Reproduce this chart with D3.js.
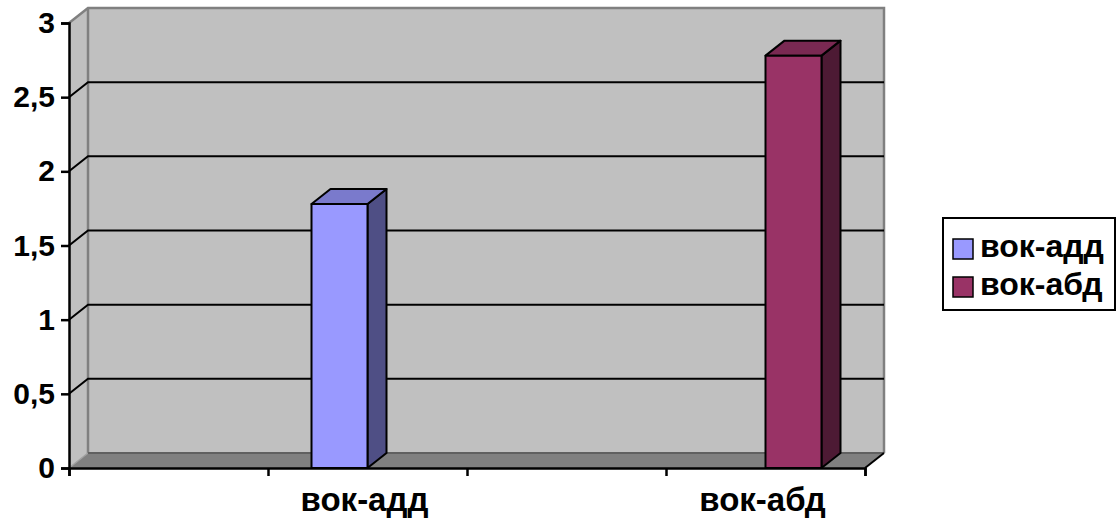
<!DOCTYPE html>
<html>
<head>
<meta charset="utf-8">
<script src="https://cdn.jsdelivr.net/npm/d3@7"></script>
<style>
  html, body { margin: 0; padding: 0; background: #fff; }
  svg { display: block; font-family: "Liberation Sans", Arial, sans-serif; font-weight: bold; }
</style>
</head>
<body>
<script>
// data
const categories = ["", "вок-адд", "", "вок-абд"];
const seriesNames = ["вок-адд", "вок-абд"];
const seriesValues = [
  [null, 1.78, null, null],
  [null, null, null, 2.78]
];
const yTicks = [0, 0.5, 1, 1.5, 2, 2.5, 3];

const colors = [
  { front: "#9999ff", top: "#7a7acc", side: "#4f4f85" },
  { front: "#993366", top: "#7a2952", side: "#4d1a34" }
];

const W = 1119, H = 520;
const x0 = 69, x1 = 865, yBottom = 468, yTop = 23;
const dx = 19, dy = 15; // depth of the 3d box

const svg = d3.select("body").append("svg")
  .attr("width", W)
  .attr("height", H);

const y = d3.scaleLinear().domain([0, 3]).range([yBottom, yTop]);
const x = d3.scaleBand().domain(d3.range(categories.length)).range([x0, x1]).padding(0);
const bw = x.bandwidth();
const xs = d3.scaleBand().domain(d3.range(seriesNames.length))
  .range([bw * 0.2186, bw * 0.7814]).padding(0);

const pts = a => a.map(p => p.join(",")).join(" ");

// walls
svg.append("polygon") // side wall
  .attr("points", pts([[x0, yBottom], [x0 + dx, yBottom - dy], [x0 + dx, yTop - dy], [x0, yTop]]))
  .attr("fill", "#c0c0c0");
svg.append("polygon") // back wall
  .attr("points", pts([[x0 + dx, yBottom - dy], [x1 + dx, yBottom - dy], [x1 + dx, yTop - dy], [x0 + dx, yTop - dy]]))
  .attr("fill", "#c0c0c0");
svg.append("polygon") // floor
  .attr("points", pts([[x0, yBottom], [x1, yBottom], [x1 + dx, yBottom - dy], [x0 + dx, yBottom - dy]]))
  .attr("fill", "#808080");

// wall edges
const edge = svg.append("g").attr("fill", "none").attr("stroke", "#808080").attr("stroke-width", 2.5);
edge.append("polyline")
  .attr("points", pts([[x0, yTop], [x0 + dx, yTop - dy], [x1 + dx, yTop - dy], [x1 + dx, yBottom - dy]]));
edge.append("line")
  .attr("x1", x0 + dx).attr("y1", yTop - dy).attr("x2", x0 + dx).attr("y2", yBottom - dy);
edge.append("line")
  .attr("x1", x0).attr("y1", yBottom).attr("x2", x0 + dx).attr("y2", yBottom - dy)
  .attr("stroke", "#a0a0a0").attr("stroke-width", 1.5);
edge.append("line")
  .attr("x1", x0 + dx).attr("y1", yBottom - dy).attr("x2", x1 + dx).attr("y2", yBottom - dy)
  .attr("stroke", "#606060").attr("stroke-width", 2);

// gridlines
const grid = svg.append("g").attr("stroke", "#000").attr("stroke-width", 2).attr("fill", "none");
yTicks.filter(t => t > 0 && t < 3).forEach(t => {
  grid.append("polyline")
    .attr("points", pts([[x0, y(t)], [x0 + dx, y(t) - dy], [x1 + dx, y(t) - dy]]));
});

// bars
seriesValues.forEach((vals, si) => {
  vals.forEach((v, ci) => {
    if (v == null) return;
    const left = x(ci) + xs(si);
    const right = left + xs.bandwidth();
    const top = y(v);
    const g = svg.append("g").attr("stroke", "#000").attr("stroke-width", 2).attr("stroke-linejoin", "round");
    g.append("polygon")
      .attr("points", pts([[right, yBottom], [right + dx, yBottom - dy], [right + dx, top - dy], [right, top]]))
      .attr("fill", colors[si].side);
    g.append("polygon")
      .attr("points", pts([[left, top], [right, top], [right + dx, top - dy], [left + dx, top - dy]]))
      .attr("fill", colors[si].top);
    g.append("rect")
      .attr("x", left).attr("y", top)
      .attr("width", right - left).attr("height", yBottom - top)
      .attr("fill", colors[si].front);
  });
});

// floor right edge
svg.append("line")
  .attr("x1", x1).attr("y1", yBottom).attr("x2", x1 + dx).attr("y2", yBottom - dy)
  .attr("stroke", "#000").attr("stroke-width", 2);

// y axis
const yAxis = svg.append("g")
  .attr("transform", `translate(${x0},0)`)
  .call(d3.axisLeft(y).tickValues(yTicks).tickSize(8).tickPadding(6)
    .tickFormat(d => String(d).replace(".", ",")));
yAxis.select(".domain").attr("stroke", "#000").attr("stroke-width", 2.5);
yAxis.selectAll(".tick line").attr("stroke", "#000").attr("stroke-width", 2.5);
yAxis.selectAll(".tick text")
  .attr("font-size", 30).attr("font-weight", "bold")
  .attr("font-family", "Liberation Sans, Arial, sans-serif").attr("fill", "#000");

// x axis
const xAxisScale = d3.scaleLinear().domain([0, categories.length]).range([x0, x1]);
const xAxis = svg.append("g")
  .attr("transform", `translate(0,${yBottom})`)
  .call(d3.axisBottom(xAxisScale).tickValues(d3.range(categories.length + 1)).tickSize(8).tickFormat(""));
xAxis.select(".domain").attr("stroke", "#000").attr("stroke-width", 2.5);
xAxis.selectAll(".tick line").attr("stroke", "#000").attr("stroke-width", 2.5);

svg.append("g").selectAll("text")
  .data(categories)
  .join("text")
  .attr("x", (d, i) => x(i) + bw / 2 - 3)
  .attr("y", 511)
  .attr("text-anchor", "middle")
  .attr("font-size", 33)
  .text(d => d);

// legend
const legend = svg.append("g");
legend.append("rect")
  .attr("x", 943).attr("y", 218).attr("width", 172).attr("height", 92)
  .attr("fill", "#fff").attr("stroke", "#000").attr("stroke-width", 2);
seriesNames.forEach((name, i) => {
  const row = legend.append("g").attr("transform", `translate(953,${239 + i * 38})`);
  row.append("rect")
    .attr("width", 20).attr("height", 20)
    .attr("fill", colors[i].front).attr("stroke", "#000").attr("stroke-width", 1.5);
  row.append("text")
    .attr("x", 27).attr("y", 18)
    .attr("font-size", 32)
    .text(name);
});
</script>
</body>
</html>
